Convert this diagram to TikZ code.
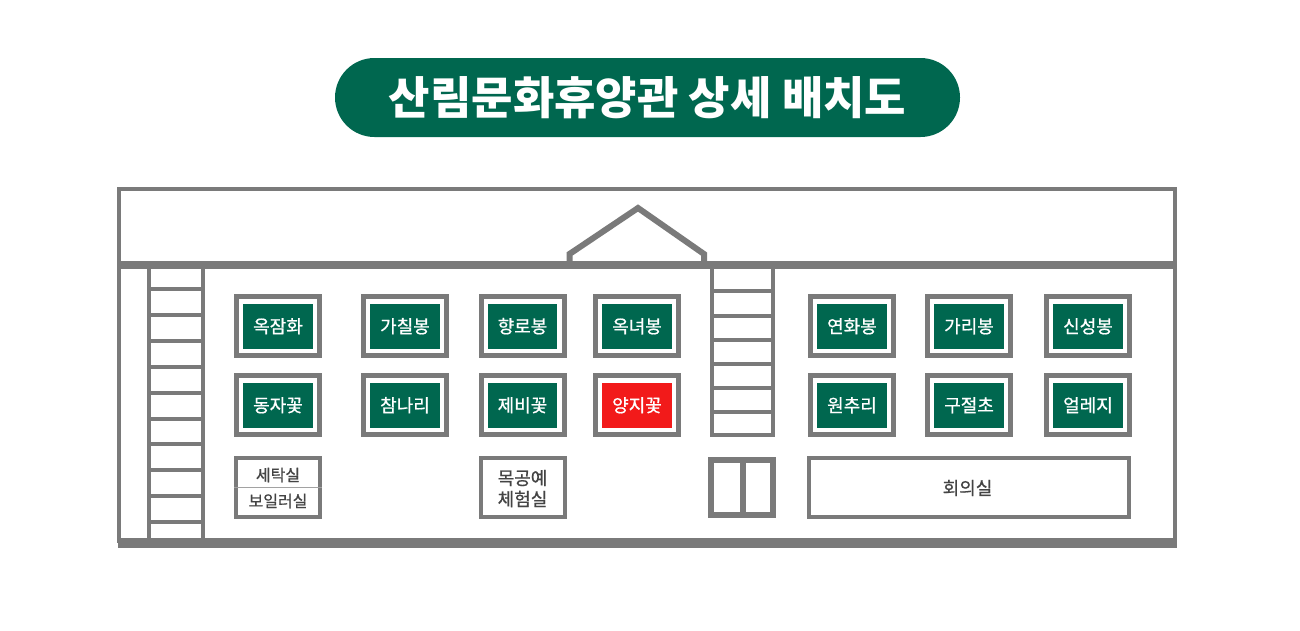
\documentclass[tikz,border=0pt]{standalone}
\usepackage{fontspec}
\setmainfont{Noto Sans CJK KR}
\newfontfamily\medfont[FakeBold=0.8]{Noto Sans CJK KR}
\definecolor{peakgreen}{HTML}{00674F}
\definecolor{wallgray}{HTML}{7A7A7A}
\definecolor{herered}{HTML}{F21A1A}
\definecolor{roomtext}{HTML}{444444}
\tikzset{
  titlebox/.style={fill=peakgreen, rounded corners=39.5pt, minimum width=625pt, minimum height=79pt, text=white, inner sep=0pt, font=\fontsize{45}{50}\selectfont\bfseries},
  framebox/.style={draw=wallgray, line width=5pt, fill=white, minimum width=83pt, minimum height=59pt, inner sep=0pt},
  peakbox/.style={fill=peakgreen, minimum width=69.5pt, minimum height=45pt, inner sep=0pt, text height=14pt, text depth=0pt, text=white, font=\fontsize{18}{20}\selectfont\medfont},
  roombox/.style={draw=wallgray, line width=4pt, fill=white, minimum height=59pt, inner sep=0pt},
  roomlabel/.style={inner sep=0pt, text=roomtext, font=\fontsize{18}{20}\selectfont\medfont},
  wall/.style={draw=wallgray, line width=4pt},
}
\begin{document}
\begin{tikzpicture}[x=1pt,y=-1pt]
\useasboundingbox (0,0) rectangle (1300,630);
\node[titlebox] (title) at (647.5,97.5) {산림문화휴양관 상세 배치도};
% building
\draw[wall] (119,265) -- (119,189) -- (1175,189) -- (1175,543);
\draw[wall] (119,265) -- (119,543);
\draw[wall, line width=6pt] (569.5,265) -- (569.5,254) -- (638,208) -- (704,254) -- (704,265);
% stairs
\foreach \y in {288.5, 315, 341, 366.5, 392.5, 418.5, 444, 470, 496, 522} \draw[wall] (149,\y) -- (203,\y);
\draw[wall] (149,262) -- (149,543);
\draw[wall] (203,262) -- (203,543);
\foreach \y in {291, 316, 340, 364, 388, 412, 435} \draw[wall] (712,\y) -- (773,\y);
\draw[wall] (712,265) -- (712,437);
\draw[wall] (773,265) -- (773,437);
\draw[wall, line width=7.5pt] (119,265) -- (1177,265);
\draw[wall, line width=10pt] (117.5,543) -- (1177,543);
% peaks
\foreach \n/\x/\y/\t in {okjam/278/326/옥잠화, gachil/405/326/가칠봉, hyangro/522.5/326/향로봉, oknyeo/637/326/옥녀봉, yeonhwa/852/326/연화봉, gari/969/326/가리봉, sinseong/1088/326/신성봉, dongja/278/405/동자꽃, chamnari/405/405/참나리, jebi/522.5/405/제비꽃, wonchu/852/405/원추리, gujeol/969/405/구절초, eolleji/1088/405/얼레지} {
  \node[framebox] (\n f) at (\x,\y) {};
  \node[peakbox] (\n) at (\x,\y) {\t};
}
\node[framebox] (yangjif) at (637,405) {};
\node[peakbox, fill=herered] (yangji) at (637,405) {양지꽃};
% rooms
\node[roombox, minimum width=84pt] (laundry) at (278,487.5) {};
\draw[wallgray!70, line width=1.5pt] (laundry.west) -- (laundry.east);
\node[roomlabel, font=\fontsize{16}{20}\selectfont\medfont] (laundrya) at (278,475) {세탁실};
\node[roomlabel, font=\fontsize{16}{20}\selectfont\medfont] (laundryb) at (278,501) {보일러실};
\node[roombox, minimum width=83.5pt] (wood) at (523.2,487.5) {};
\node[roomlabel] (wooda) at (522.5,478) {목공예};
\node[roomlabel] (woodb) at (522.5,499) {체험실};
\node[roombox, minimum width=320pt] (meeting) at (969,487.5) {};
\node[roomlabel] (meetinga) at (967.5,488) {회의실};
\node[draw=wallgray, line width=6pt, minimum width=62pt, minimum height=55pt, inner sep=0pt] (door) at (742,487.5) {};
\draw[wallgray, line width=6pt] ([xshift=1pt]door.north) -- ([xshift=1pt]door.south);
\end{tikzpicture}
\end{document}
